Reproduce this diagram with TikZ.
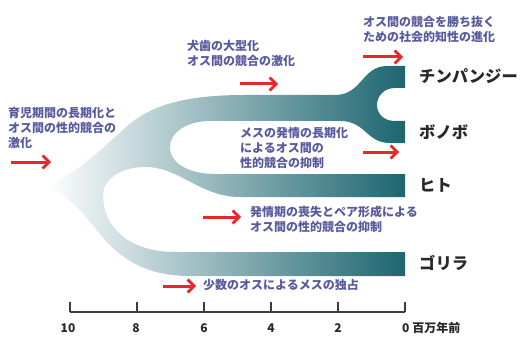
\documentclass[tikz,border=0pt]{standalone}
\usepackage{fontspec}
\newfontfamily\jp{Noto Sans CJK JP}
\usetikzlibrary{arrows.meta}
\definecolor{cap}{RGB}{88,90,158}
\definecolor{arr}{RGB}{230,40,42}
\definecolor{teal}{RGB}{29,101,112}
\definecolor{tealmid}{RGB}{124,153,161}
\definecolor{lab}{RGB}{40,40,40}
\tikzset{
  caption/.style={anchor=west,align=left,inner sep=0pt,text=cap,font=\jp\bfseries\fontsize{12}{15}\selectfont},
  species/.style={anchor=west,inner sep=0pt,text=lab,font=\jp\bfseries\fontsize{16.3}{18}\selectfont},
  redarrow/.style={draw=arr,line width=3pt,-{Straight Barb[length=6.5pt,width=13pt,line width=2.8pt]}},
  axislab/.style={inner sep=0pt,text=lab,font=\jp\bfseries\fontsize{12}{14}\selectfont},
  axisline/.style={draw=lab!90,line width=1.5pt}
}
\begin{document}
\begin{tikzpicture}[x=1pt,y=-1pt]
\useasboundingbox (0,0) rectangle (520,337);
% tree
\shade[left color=white,middle color=tealmid,right color=teal]
(45,185)
.. controls (75,176) and (100,150) .. (125,128)
.. controls (150,105) and (185,95) .. (245,95)
-- (335,95)
.. controls (362,95) and (362,66) .. (387,66)
-- (405,66) -- (405,88) -- (395,88)
.. controls (384,88) and (377,96) .. (377,105)
.. controls (377,114) and (384,121) .. (395,121)
-- (405,121) -- (405,143) -- (390,143)
.. controls (366,143) and (366,121) .. (340,121)
-- (210,121)
.. controls (186,121) and (170,133) .. (170,147)
.. controls (170,164) and (190,174) .. (215,174)
-- (405,174) -- (405,197) -- (240,197)
.. controls (200,197) and (180,167) .. (145,167)
.. controls (120,167) and (103,180) .. (103,195)
.. controls (103,228) and (130,252) .. (175,252)
-- (405,252) -- (405,276) -- (190,276)
.. controls (150,276) and (125,262) .. (105,240)
.. controls (88,220) and (70,193) .. (45,188)
-- cycle;
% captions
\node[caption] (c1) at (8,128) {育児期間の長期化と\\オス間の性的競合の\\激化};
\node[caption] (c2) at (187,54) {犬歯の大型化\\オス間の競合の激化};
\node[caption] (c3) at (363,29.5) {オス間の競合を勝ち抜く\\ための社会的知性の進化};
\node[caption] (c4) at (240,148) {メスの発情の長期化\\によるオス間の\\性的競合の抑制};
\node[caption] (c5) at (250,219.5) {発情期の喪失とペア形成による\\オス間の性的競合の抑制};
\node[caption] (c6) at (203,285) {少数のオスによるメスの独占};
% arrows
\coordinate (a1s) at (11,162); \coordinate (a1e) at (51,162);
\coordinate (a2s) at (240,84); \coordinate (a2e) at (278,84);
\coordinate (a3s) at (363,57); \coordinate (a3e) at (403,57);
\coordinate (a4s) at (363,152); \coordinate (a4e) at (399,152);
\coordinate (a5s) at (203,217); \coordinate (a5e) at (241,217);
\coordinate (a6s) at (163,286); \coordinate (a6e) at (196,286);
\draw[redarrow] (a1s) -- (a1e);
\draw[redarrow] (a2s) -- (a2e);
\draw[redarrow] (a3s) -- (a3e);
\draw[redarrow] (a4s) -- (a4e);
\draw[redarrow] (a5s) -- (a5e);
\draw[redarrow] (a6s) -- (a6e);
% species
\node[species] (chimp) at (419,76) {チンパンジー};
\node[species] (bonobo) at (419,132) {ボノボ};
\node[species] (human) at (419,185) {ヒト};
\node[species] (gorilla) at (419,263) {ゴリラ};
% axis
\coordinate (t10) at (70,312); \coordinate (t8) at (137,312);
\coordinate (t6) at (204,312); \coordinate (t4) at (271,312);
\coordinate (t2) at (338,312); \coordinate (t0) at (405,312);
\draw[axisline] (t10) -- (t0);
\foreach \t in {t10,t8,t6,t4,t2,t0} \draw[axisline] (\t) -- ++(0,-10);
\node[axislab] (l10) at (68,328) {10};
\node[axislab] (l8) at (136,328) {8};
\node[axislab] (l6) at (204,328) {6};
\node[axislab] (l4) at (271,328) {4};
\node[axislab] (l2) at (338,328) {2};
\node[axislab,anchor=west] (l0) at (402,328) {0 百万年前};
\end{tikzpicture}
\end{document}
